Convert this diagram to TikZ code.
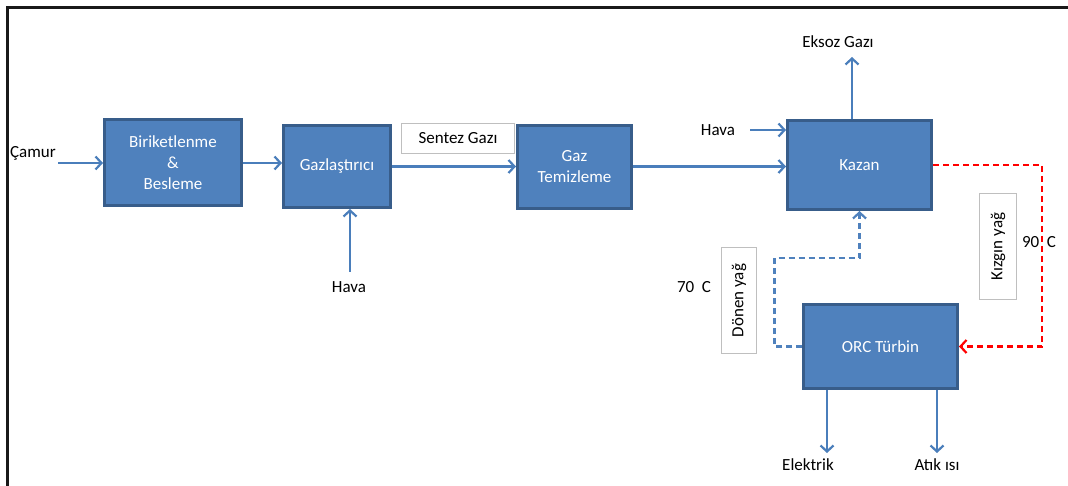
\documentclass[tikz,border=0pt]{standalone}
\usepackage{fontspec}
\setmainfont{Carlito}
\usetikzlibrary{arrows.meta}
\definecolor{boxfill}{HTML}{4F81BD}
\definecolor{boxedge}{HTML}{385D8A}
\definecolor{flow}{HTML}{4A7EBB}
\definecolor{tagedge}{HTML}{BFBFBF}
\definecolor{hotoil}{HTML}{FF0000}
\begin{document}
\begin{tikzpicture}[x=1pt,y=-1pt,
  font=\fontsize{17}{21}\selectfont,
  unit/.style={draw=boxedge,fill=boxfill,line width=3pt,text=white,
    align=center,inner sep=0pt},
  tag/.style={draw=tagedge,fill=white,line width=1.2pt,inner sep=0pt},
  flowarrow/.style={draw=flow,line width=2.5pt,
    -{Straight Barb[length=6pt,width=13pt,line width=2.2pt]}},
  oilreturn/.style={draw=boxfill,line width=2.5pt,dash pattern=on 6pt off 4pt,
    -{Straight Barb[length=6pt,width=13pt,line width=2.2pt]}},
  oilhot/.style={draw=hotoil,line width=2.5pt,dash pattern=on 6pt off 4pt,
    -{Straight Barb[length=6pt,width=13pt,line width=2.2pt]}},
  lbl/.style={inner sep=0pt,text=black}]
\useasboundingbox (0,0) rectangle (1068,486);
\draw[line width=3pt,black!90] (7,487) -- (7,8) -- (1069,8);

% process units
\node[unit,minimum width=137pt,minimum height=86pt] (bir) at (173,162.5)
  {Biriketlenme\\\&\\Besleme};
\node[unit,minimum width=107pt,minimum height=82pt] (gaz) at (337,166.5) {Gazlaştırıcı};
\node[unit,minimum width=114pt,minimum height=83pt] (tem) at (574.5,167) {Gaz\\Temizleme};
\node[unit,minimum width=144pt,minimum height=89pt] (kaz) at (859.5,165) {Kazan};
\node[unit,minimum width=154pt,minimum height=84pt] (orc) at (880.5,346.5) {ORC Türbin};

% stream labels
\node[tag,minimum width=113pt,minimum height=30pt] (sentez) at (458,138.5) {Sentez Gazı};
\node[tag,minimum width=35pt,minimum height=106pt] (donen) at (739,300.5)
  {\rotatebox{90}{Dönen yağ}};
\node[tag,minimum width=37pt,minimum height=106pt] (kizgin) at (998,246.5)
  {\rotatebox{90}{Kızgın yağ}};

\node[lbl] (camur) at (33,153) {Çamur};
\node[lbl] (hava1) at (718,130) {Hava};
\node[lbl] (hava2) at (349,287) {Hava};
\node[lbl] (eksoz) at (838,42) {Eksoz Gazı};
\node[lbl] (t70) at (694,287) {70~~C};
\node[lbl] (t90) at (1039,242) {90~~C};
\node[lbl] (elek) at (808,465) {Elektrik};
\node[lbl] (atik) at (937,465) {Atık ısı};

% free ends of the streams
\coordinate (camin) at (58,163);
\coordinate (havain) at (750,130);
\coordinate (havaup) at (350,272);
\coordinate (eksend) at (852,57);
\coordinate (redc) at (1042,346.5);
\coordinate (ret1) at (774.5,258);
\coordinate (ret2) at (859.5,258);
\coordinate (elend) at (827,453);
\coordinate (atend) at (937,453);

% main flow
\draw[flowarrow] (camin) -- (camin -| bir.west);
\draw[flowarrow] (bir.east |- camin) -- (camin -| gaz.west);
\draw[flowarrow] (gaz.east) -- (gaz.east -| tem.west);
\draw[flowarrow] (tem.east |- gaz.east) -- (gaz.east -| kaz.west);
\draw[flowarrow] (havain) -- (havain -| kaz.west);
\draw[flowarrow] (havaup) -- (havaup |- gaz.south);
\draw[flowarrow] (eksend |- kaz.north) -- (eksend);
\draw[flowarrow] (elend |- orc.south) -- (elend);
\draw[flowarrow] (atend |- orc.south) -- (atend);

% thermal oil loop
\draw[oilhot] (kaz.east) -| (redc) -- (orc.east);
\draw[oilreturn] (orc.west) -| (ret1) -- (ret2) -- (ret2 |- kaz.south);
\end{tikzpicture}
\end{document}
